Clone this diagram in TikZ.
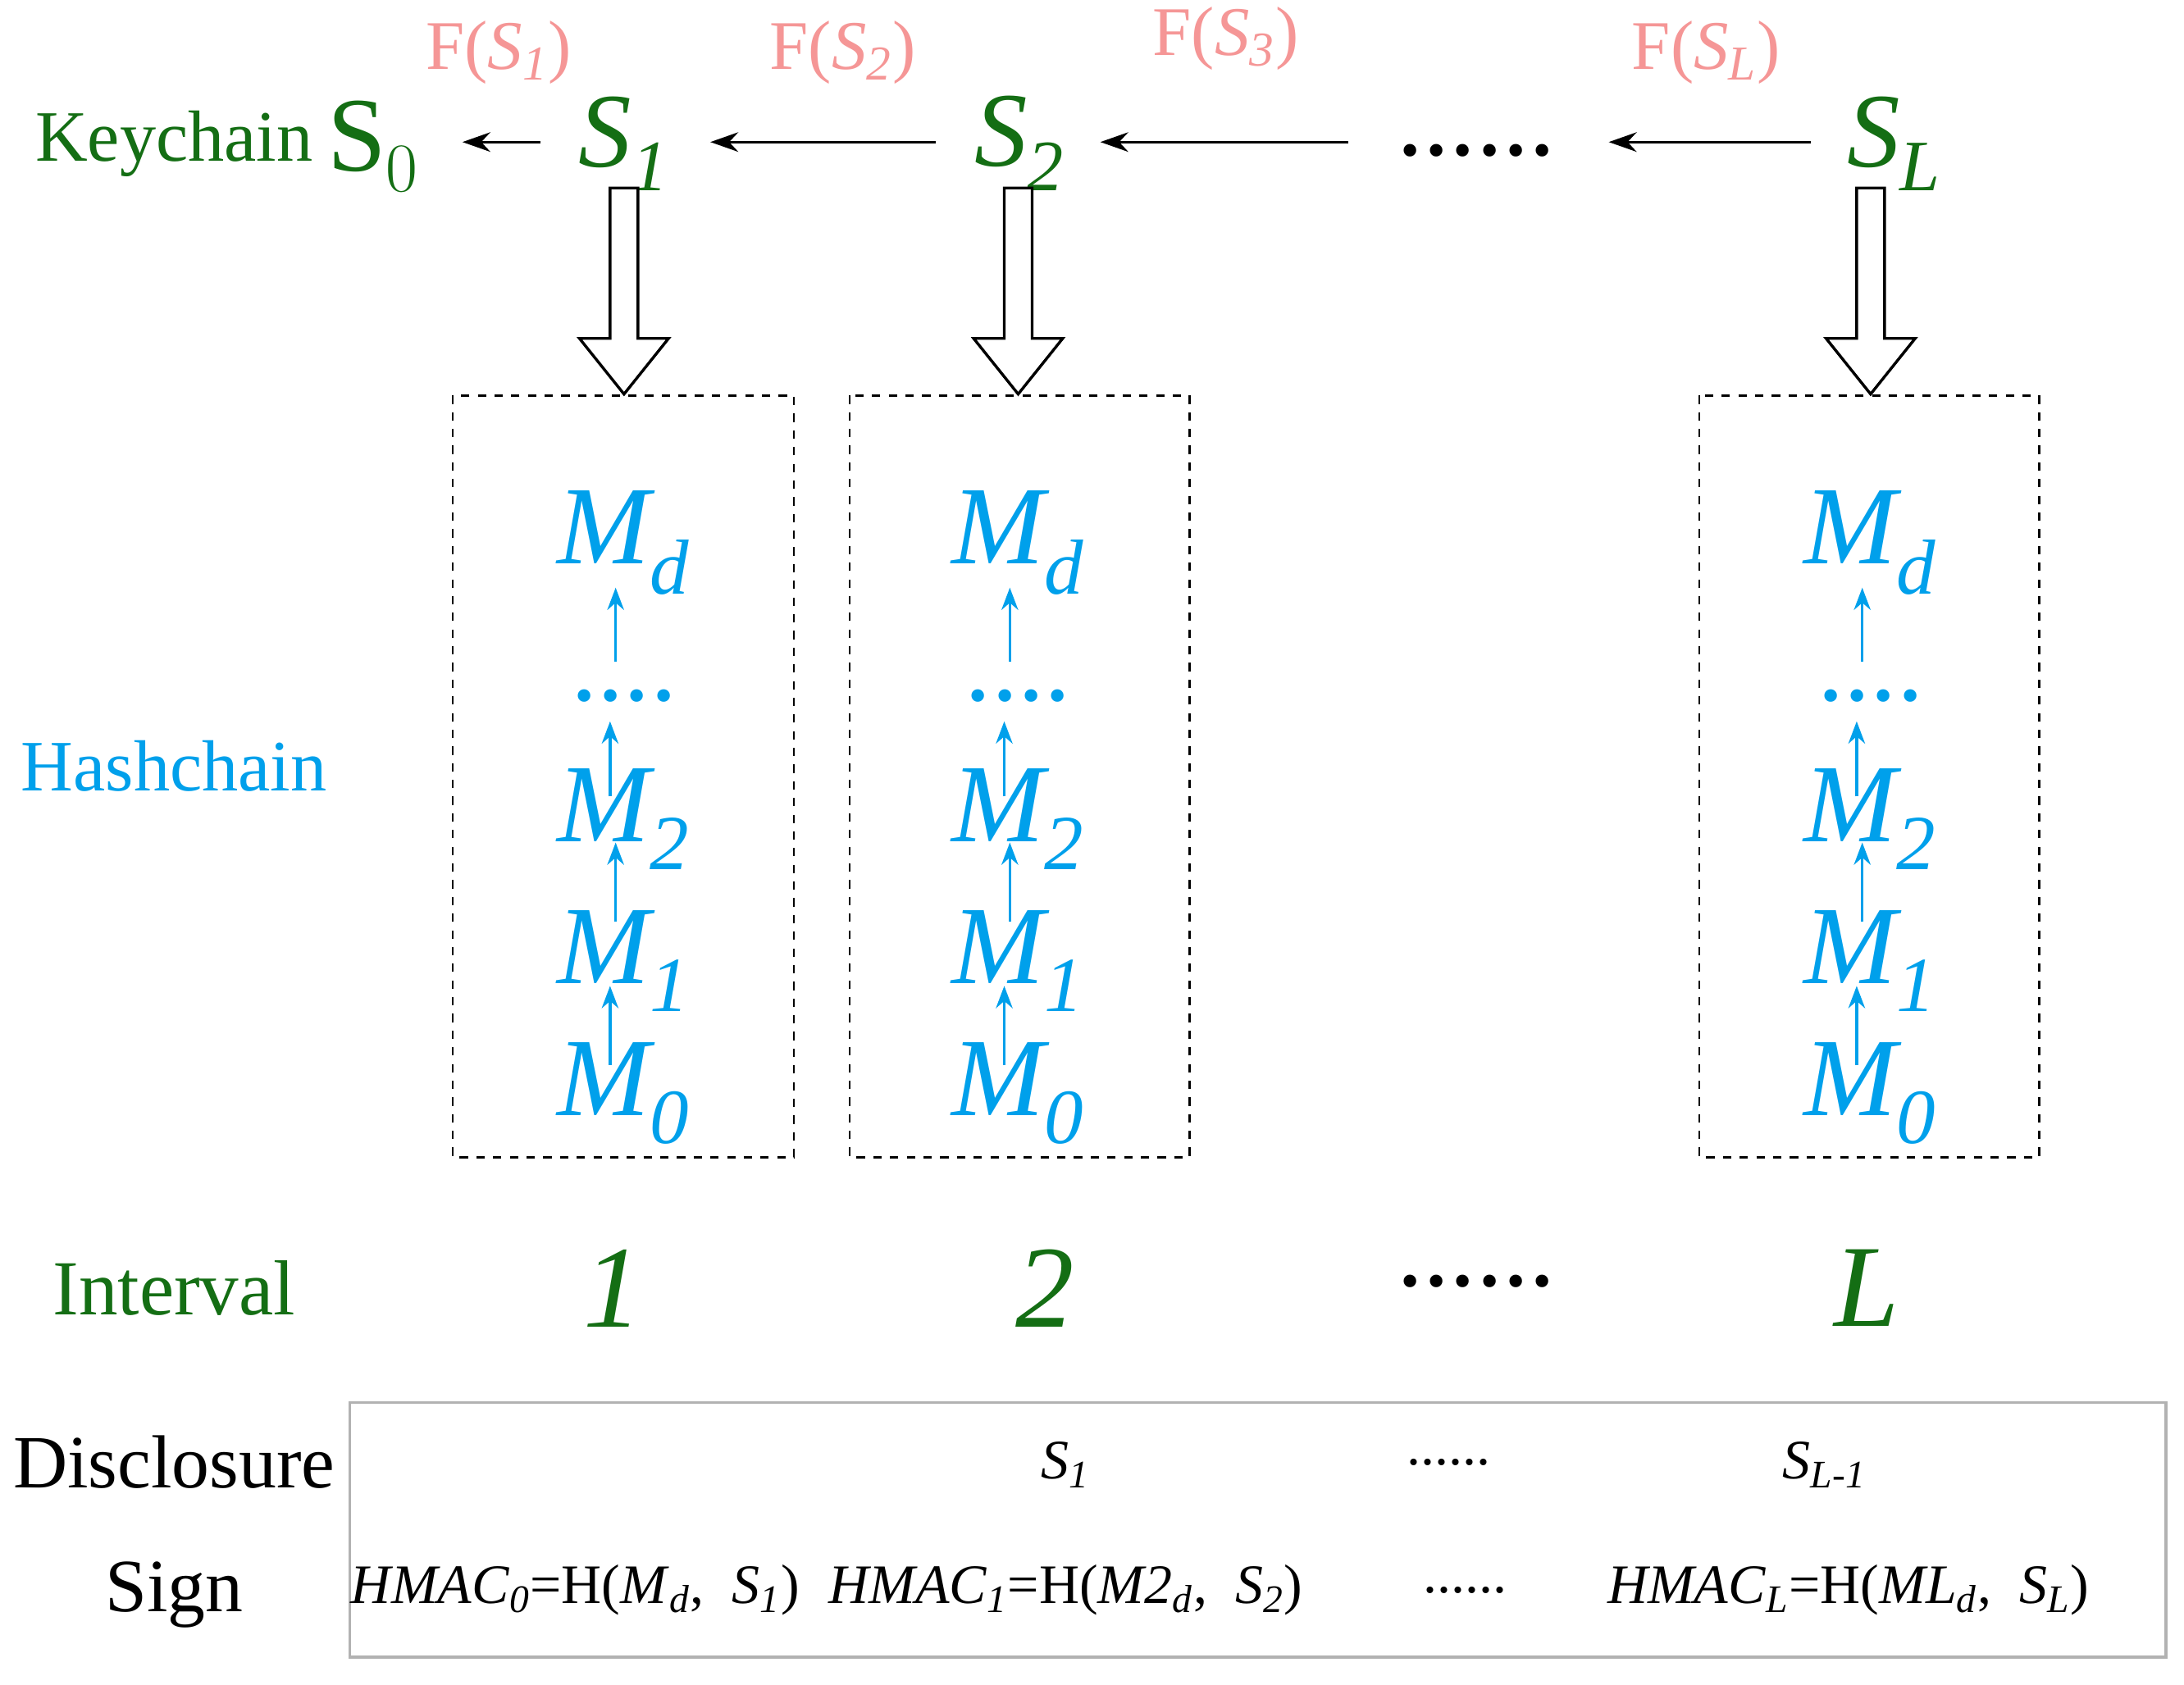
\documentclass[tikz,border=0pt]{standalone}
\usepackage{fontspec}
\setmainfont{Liberation Serif}
\usetikzlibrary{arrows.meta}
\definecolor{kg}{RGB}{20,110,20}
\definecolor{hb}{RGB}{0,160,235}
\definecolor{fp}{RGB}{245,150,150}
\newcommand{\fs}[1]{\fontsize{#1}{#1}\selectfont}
\begin{document}
\begin{tikzpicture}[x=0.5pt,y=-0.5pt,
  green/.style={text=kg,inner sep=0},
  S/.style={green,font=\fs{38}\itshape},
  F/.style={text=fp,font=\fs{25},inner sep=0},
  M/.style={text=hb,font=\fs{40}\itshape,inner sep=0},
  ka/.style={-{Stealth[length=10pt,width=7pt]},line width=1pt},
  ha/.style={-{Stealth[length=8pt,width=6pt]},hb,line width=1pt},
  box/.style={draw,dashed,line width=0.8pt},
  lab/.style={font=\fs{27},inner sep=0},
  sm/.style={font=\fs{20},inner sep=0}]
\useasboundingbox (0,0) rectangle (1568,1210);
% keychain
\node[green,font=\fs{26}] (kc) at (125,103) {Keychain};
\node[green,font=\fs{38}] (s0) at (268,105) {S$_0$};
\node[S] (s1) at (448,103) {S\textsubscript{\fs{26}1}};
\node[S] (s2) at (732,103) {S\textsubscript{\fs{26}2}};
\node[font=\fs{38},inner sep=0] (kd) at (1060,108) {......};
\node[S] (sl) at (1360,103) {S\textsubscript{\fs{26}L}};
\coordinate (a1s) at (388,102); \coordinate (a1e) at (332,102);
\coordinate (a2s) at (672,102); \coordinate (a2e) at (510,102);
\coordinate (a3s) at (968,102); \coordinate (a3e) at (790,102);
\coordinate (a4s) at (1300,102); \coordinate (a4e) at (1155,102);
\draw[ka] (a1s) -- (a1e); \draw[ka] (a2s) -- (a2e);
\draw[ka] (a3s) -- (a3e); \draw[ka] (a4s) -- (a4e);
\node[F] (f1) at (358,38) {F(\textit{S}\textsubscript{\textit{1}})};
\node[F] (f2) at (605,38) {F(\textit{S}\textsubscript{\textit{2}})};
\node[F] (f3) at (880,28) {F(\textit{S}\textsubscript{\textit{3}})};
\node[F] (f4) at (1225,38) {F(\textit{S}\textsubscript{\textit{L}})};
% hollow arrows and boxes
\foreach \x/\l/\r in {448/325/570, 731/610/854, 1343/1220/1464}{
  \draw[line width=1pt,fill=white] (\x-10,135) -- (\x+10,135) -- (\x+10,243) -- (\x+32,243)
     -- (\x,283) -- (\x-32,243) -- (\x-10,243) -- cycle;
  \draw[box] (\l,284) rectangle (\r,831);
}
\foreach \x/\n in {448/a, 731/b, 1343/c}{
  \node[M] (md\n) at (\x,390) {M\textsubscript{\fs{28}d}};
  \node[text=hb,font=\fs{38},inner sep=0] (dt\n) at (\x,500) {....};
  \node[M] (m2\n) at (\x,588) {M\textsubscript{\fs{28}2}};
  \node[M] (m1\n) at (\x,690) {M\textsubscript{\fs{28}1}};
  \node[M] (m0\n) at (\x,785) {M\textsubscript{\fs{28}0}};
  \coordinate (p1\n) at (\x-6,475); \coordinate (q1\n) at (\x-6,422);
  \coordinate (p2\n) at (\x-10,572); \coordinate (q2\n) at (\x-10,518);
  \coordinate (p3\n) at (\x-6,662); \coordinate (q3\n) at (\x-6,605);
  \coordinate (p4\n) at (\x-10,765); \coordinate (q4\n) at (\x-10,708);
  \draw[ha] (p1\n) -- (q1\n); \draw[ha] (p2\n) -- (q2\n);
  \draw[ha] (p3\n) -- (q3\n); \draw[ha] (p4\n) -- (q4\n);
}
\node[text=hb,font=\fs{26},inner sep=0] (hc) at (125,550) {Hashchain};
% intervals
\node[green,font=\fs{28}] (iv) at (125,925) {Interval};
\node[green,font=\fs{42}\itshape] (i1) at (440,925) {1};
\node[green,font=\fs{42}\itshape] (i2) at (750,925) {2};
\node[font=\fs{38},inner sep=0] (id) at (1060,920) {......};
\node[green,font=\fs{42}\itshape] (il) at (1340,925) {L};
% bottom box
\draw[gray!60,line width=1pt] (251,1007) rectangle (1555,1190);
\node[lab] (dis) at (125,1050) {Disclosure};
\node[lab] (sig) at (125,1145) {Sign};
\node[sm] (d1) at (765,1052) {\textit{S}\textsubscript{\textit{1}}};
\node[sm] (d2) at (1040,1050) {......};
\node[sm] (d3) at (1310,1052) {\textit{S}\textsubscript{\textit{L-1}}};
\node[sm] (h0) at (413,1142) {\textit{HMAC}\textsubscript{\textit{0}}=H(\textit{M}\textsubscript{\textit{d}},\ \ \textit{S}\textsubscript{\textit{1}})};
\node[sm] (h1) at (765,1142) {\textit{HMAC}\textsubscript{\textit{1}}=H(\textit{M2}\textsubscript{\textit{d}},\ \ \textit{S}\textsubscript{\textit{2}})};
\node[sm] (h2) at (1052,1142) {......};
\node[sm] (h3) at (1327,1142) {\textit{HMAC}\textsubscript{\textit{L}}=H(\textit{ML}\textsubscript{\textit{d}},\ \ \textit{S}\textsubscript{\textit{L}})};
\end{tikzpicture}
\end{document}
